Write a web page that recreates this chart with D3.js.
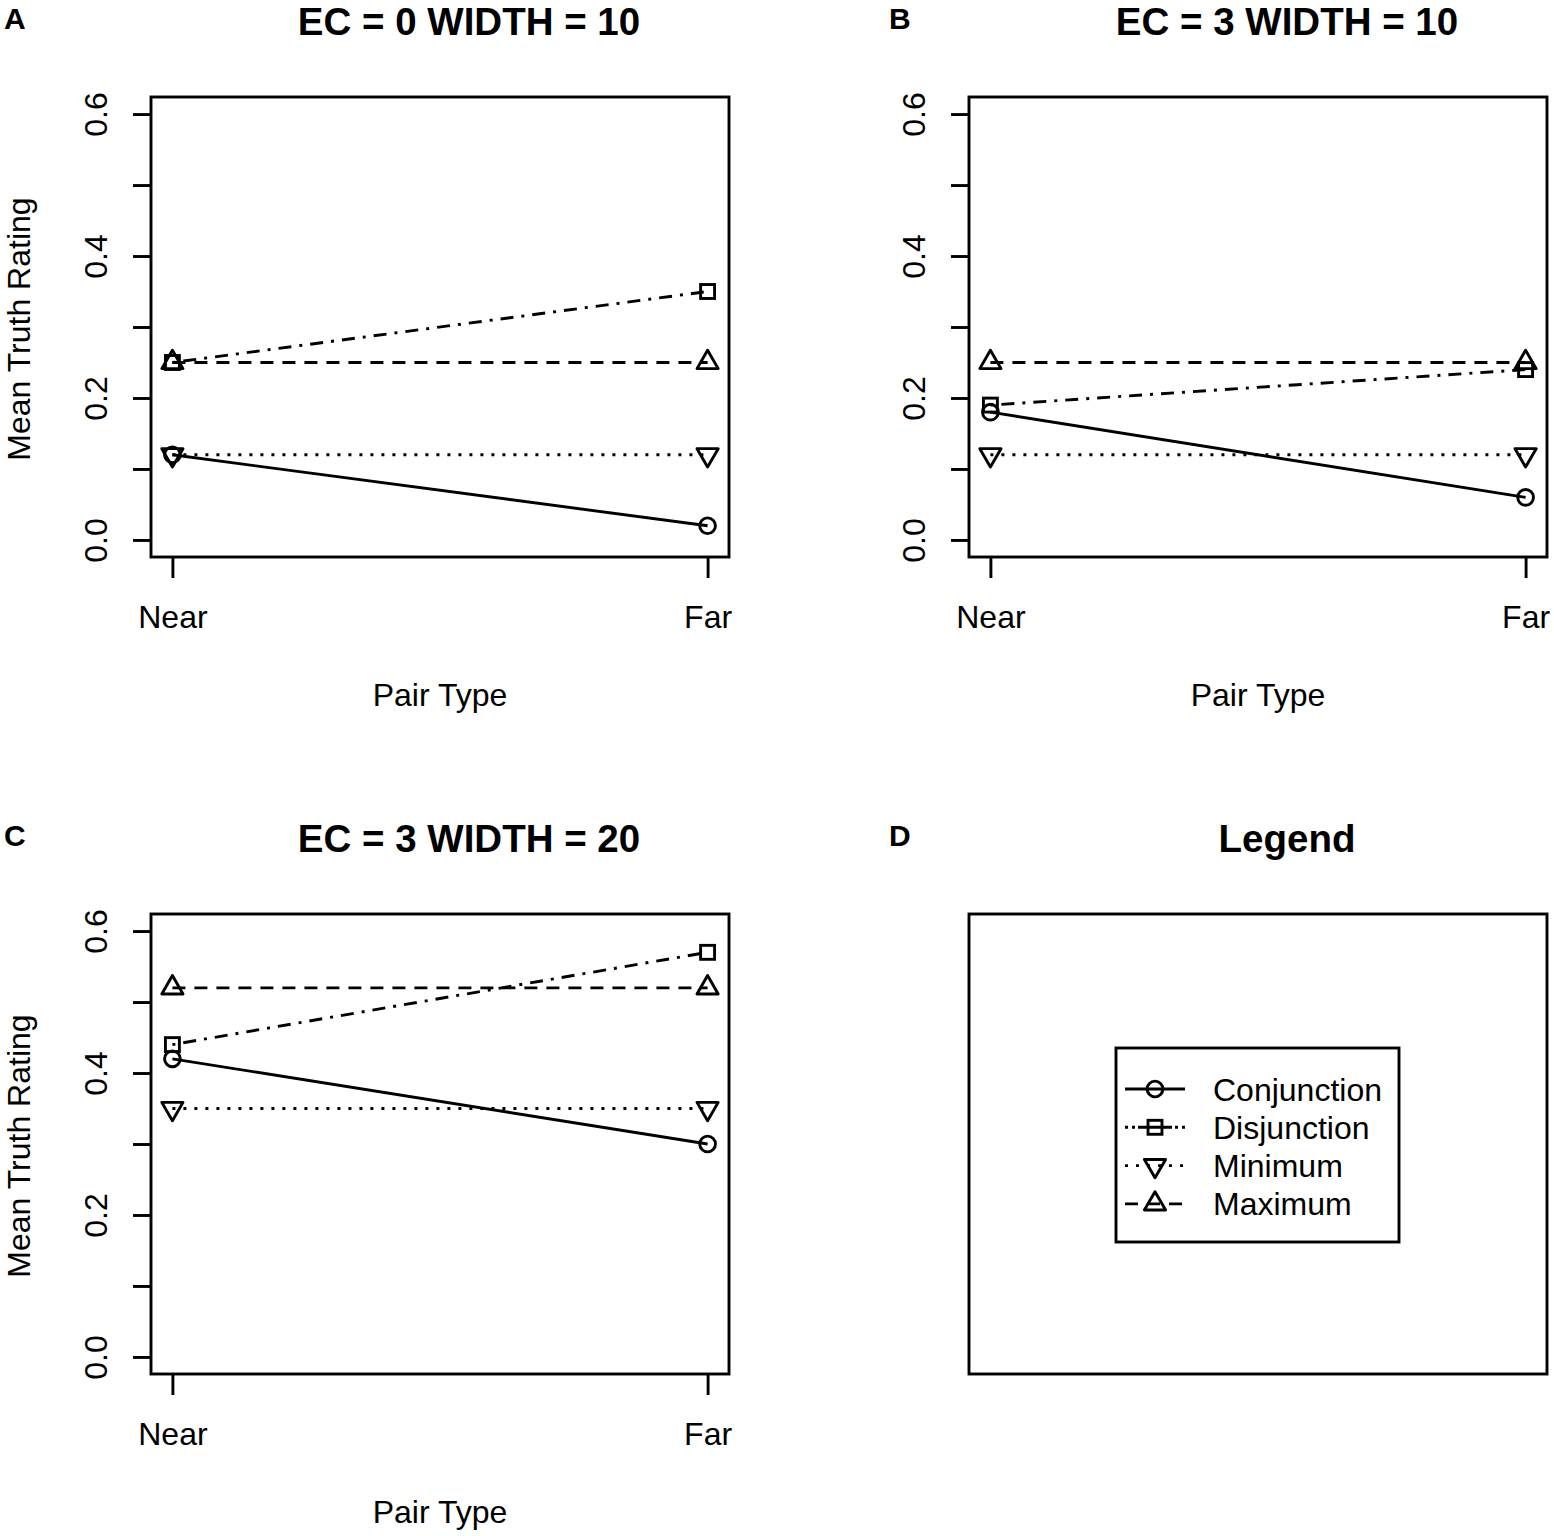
<!DOCTYPE html>
<html>
<head>
<meta charset="utf-8">
<script src="https://cdn.jsdelivr.net/npm/d3@7/dist/d3.min.js"></script>
<style>
  html, body { margin: 0; padding: 0; background: #fff; }
  svg { display: block; }
  text { font-family: "Liberation Sans", Arial, Helvetica, sans-serif; fill: #000; }
</style>
</head>
<body>
<svg id="chart" width="1554" height="1536"></svg>
<script>
// ---- data ----
const categories = ["Near", "Far"];
const panelLetters = ["A", "B", "C", "D"];
const panelTitles = ["EC = 0 WIDTH = 10", "EC = 3 WIDTH = 10", "EC = 3 WIDTH = 20", "Legend"];
const seriesNames = ["Conjunction", "Disjunction", "Minimum", "Maximum"];
// values per panel (A, B, C) for Near, Far
const conjunction = [[0.12, 0.02], [0.18, 0.06], [0.42, 0.30]];
const disjunction = [[0.25, 0.35], [0.19, 0.24], [0.44, 0.57]];
const minimum     = [[0.12, 0.12], [0.12, 0.12], [0.35, 0.35]];
const maximum     = [[0.25, 0.25], [0.25, 0.25], [0.52, 0.52]];
const yTicks = [0, 0.1, 0.2, 0.3, 0.4, 0.5, 0.6];
const yTickLabels = ["0.0", "", "0.2", "", "0.4", "", "0.6"];
const yDomain = [0, 0.6];
const xLabel = "Pair Type";
const yLabel = "Mean Truth Rating";

// ---- styles ----
const seriesData = [conjunction, disjunction, minimum, maximum];
const seriesDash = [null, "3,8,13,8", "3,8", "13,9"];
const legendDash = [null, "3,4,3,3,34,3,3,4,3", "3,8", "13,9"];
const seriesShape = ["circle", "square", "triDown", "triUp"];
const LW = 2.9;
const FS = 32;

const svg = d3.select("#chart");

function drawSymbol(g, shape, cx, cy) {
  const s = 21;
  if (shape === "circle") {
    g.append("circle").attr("cx", cx).attr("cy", cy).attr("r", 0.375 * s)
      .attr("fill", "none").attr("stroke", "#000").attr("stroke-width", LW);
  } else if (shape === "square") {
    const h = 0.375 * 0.88622 * s;
    g.append("rect").attr("x", cx - h).attr("y", cy - h).attr("width", 2 * h).attr("height", 2 * h)
      .attr("fill", "none").attr("stroke", "#000").attr("stroke-width", LW);
  } else {
    const r = 0.375 * 1.55512 * s;
    const xc = r * Math.sqrt(3) / 2, yc = r / 2;
    const sg = shape === "triUp" ? 1 : -1;
    const pts = [[cx, cy - sg * r], [cx + xc, cy + sg * yc], [cx - xc, cy + sg * yc]];
    g.append("path").attr("d", "M" + pts.map(p => p.join(",")).join("L") + "Z")
      .attr("fill", "none").attr("stroke", "#000").attr("stroke-width", LW).attr("stroke-linejoin", "round");
  }
}

const DX = 818, DY = 817;
const boxW = 578, boxH = 460;
const box0 = { left: 151, top: 97 };
const letterX = [4, 889, 4, 889];

panelLetters.forEach((letter, i) => {
  const ox = (i % 2) * DX, oy = Math.floor(i / 2) * DY;
  svg.append("text").attr("x", letterX[i]).attr("y", oy + 29).attr("font-size", 30)
    .attr("font-weight", "bold").text(letter);
  const g = svg.append("g").attr("transform", `translate(${ox},${oy})`);
  g.append("text").attr("x", 469).attr("y", 35).attr("text-anchor", "middle")
    .attr("font-size", 38.5).attr("font-weight", "bold").text(panelTitles[i]);

  const L = box0.left, T = box0.top, R = L + boxW, B = T + boxH;
  g.append("rect").attr("x", L).attr("y", T).attr("width", boxW).attr("height", boxH)
    .attr("fill", "none").attr("stroke", "#000").attr("stroke-width", LW);

  if (i === 3) {
    // legend
    const lg = g.append("g");
    const lx = 1116 - DX, ly = 1048 - DY, lw = 283, lh = 194;
    lg.append("rect").attr("x", lx).attr("y", ly).attr("width", lw).attr("height", lh)
      .attr("fill", "none").attr("stroke", "#000").attr("stroke-width", LW);
    seriesNames.forEach((name, k) => {
      const cy = ly + 41 + k * 38.3;
      const x1 = lx + 9, x2 = lx + 69;
      lg.append("line").attr("x1", x1).attr("x2", x2).attr("y1", cy).attr("y2", cy)
        .attr("stroke", "#000").attr("stroke-width", LW)
        .attr("stroke-dasharray", legendDash[k]);
      drawSymbol(lg, seriesShape[k], (x1 + x2) / 2, cy);
      lg.append("text").attr("x", lx + 97).attr("y", cy + 11.5).attr("font-size", FS).text(name);
    });
    return;
  }

  const pad = 0.04 / 1.08;
  const y = d3.scaleLinear().domain(yDomain).range([B - pad * boxH, T + pad * boxH]);
  const x = d3.scalePoint().domain(categories).range([L + pad * boxW, R - pad * boxW]);

  const yAxis = g.append("g").attr("transform", `translate(${L},0)`)
    .call(d3.axisLeft(y).tickValues(yTicks).tickSize(18).tickFormat((d, j) => yTickLabels[j]));
  yAxis.select(".domain").remove();
  yAxis.selectAll(".tick line").attr("stroke", "#000").attr("stroke-width", LW);
  yAxis.selectAll(".tick text")
    .attr("transform", "rotate(-90)").attr("x", 0).attr("y", -44).attr("dy", 0)
    .attr("text-anchor", "middle").attr("font-size", FS).attr("fill", "#000")
    .attr("font-family", "Liberation Sans, Arial, sans-serif");

  const xAxis = g.append("g").attr("transform", `translate(0,${B})`)
    .call(d3.axisBottom(x).tickSize(21));
  xAxis.select(".domain").remove();
  xAxis.selectAll(".tick line").attr("stroke", "#000").attr("stroke-width", LW);
  xAxis.selectAll(".tick text").attr("y", 71).attr("dy", 0).attr("font-size", FS)
    .attr("fill", "#000").attr("font-family", "Liberation Sans, Arial, sans-serif");

  g.append("text").attr("x", (L + R) / 2).attr("y", 706).attr("text-anchor", "middle")
    .attr("font-size", FS).text(xLabel);
  if (i !== 1) {
    g.append("text").attr("transform", `translate(30,${(T + B) / 2 + 2}) rotate(-90)`)
      .attr("text-anchor", "middle").attr("font-size", FS).text(yLabel);
  }

  const line = d3.line().x((d, j) => x(categories[j])).y(d => y(d));
  seriesData.forEach((sd, k) => {
    const vals = sd[i];
    g.append("path").attr("d", line(vals)).attr("fill", "none")
      .attr("stroke", "#000").attr("stroke-width", LW)
      .attr("stroke-dasharray", seriesDash[k]);
    vals.forEach((v, j) => drawSymbol(g, seriesShape[k], x(categories[j]), y(v)));
  });
});
</script>
</body>
</html>
